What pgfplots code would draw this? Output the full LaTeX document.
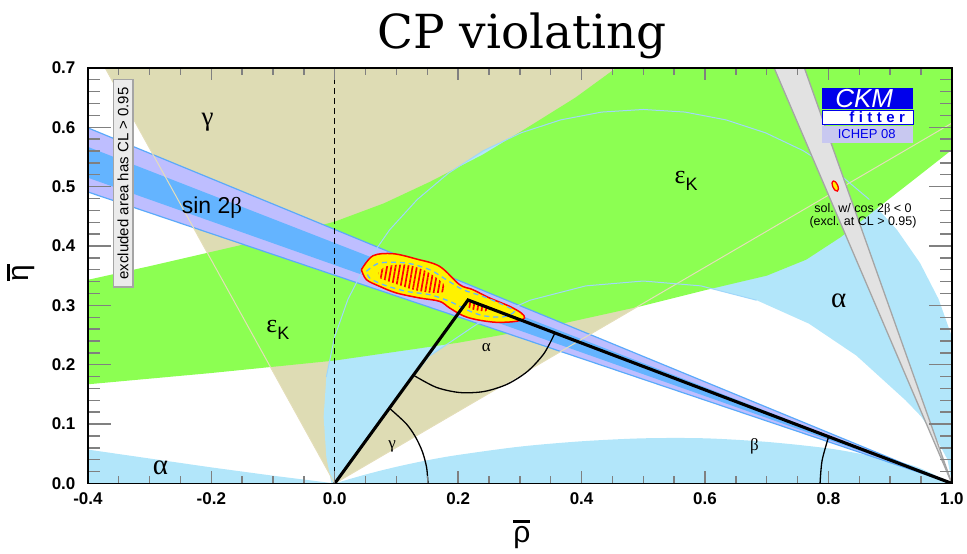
\documentclass[border=0pt]{standalone}
\usepackage{fontspec}
\setmainfont{Liberation Sans}
\newfontfamily\grk{Liberation Serif}
\newfontfamily\titlefont{DejaVu Serif}
\usepackage{pgfplots}
\pgfplotsset{compat=1.18}
\usetikzlibrary{patterns.meta}
\newcommand\fs[1]{\fontsize{#1}{#1}\selectfont}
\definecolor{tanc}{RGB}{222,220,180}
\definecolor{lblue}{RGB}{178,230,250}
\definecolor{lblueline}{RGB}{160,215,250}
\definecolor{epsgreen}{RGB}{140,255,82}
\definecolor{lav}{RGB}{190,190,255}
\definecolor{bandblue}{RGB}{100,180,255}
\definecolor{bandedge}{RGB}{90,170,250}
\definecolor{grayfill}{RGB}{226,226,226}
\definecolor{grayedge}{RGB}{165,165,165}
\definecolor{tanline}{RGB}{228,222,185}
\definecolor{logoblue}{RGB}{0,0,235}
\definecolor{logolav}{RGB}{200,200,240}
\definecolor{boxgray}{RGB}{235,235,235}
\definecolor{boxedge}{RGB}{165,165,165}
\begin{document}
\begin{tikzpicture}
\begin{axis}[
  name=ax, scale only axis, width=865pt, height=416pt,
  xmin=-0.4, xmax=1.0, ymin=0, ymax=0.7,
  xtick={-0.4,-0.2,0,0.2,0.4,0.6,0.8,1.0},
  ytick={0,0.1,0.2,0.3,0.4,0.5,0.6,0.7},
  minor x tick num=3, minor y tick num=4,
  tick align=inside,
  axis on top,
  axis line style={line width=1.8pt},
  xtick style={line width=1.4pt, /pgfplots/major tick length=12pt, /pgfplots/minor tick length=7pt},
  ytick style={line width=1.4pt, /pgfplots/major tick length=23pt, /pgfplots/minor tick length=12pt},
  /pgf/number format/assume math mode=true,
  xticklabel={\pgfmathprintnumber[fixed,fixed zerofill,precision=1]{\tick}},
  yticklabel={\pgfmathprintnumber[fixed,fixed zerofill,precision=1]{\tick}},
  ticklabel style={font=\fs{17}\bfseries},
  xticklabel style={yshift=-6pt},
  yticklabel style={xshift=-9pt},
]
% gamma wedge
\addplot[draw=none, fill=tanc] coordinates {(0,0) (1.0,0.607) (1.0,0.7) (-0.372,0.7)};
% alpha crescent
\addplot[draw=none, fill=lblue] coordinates {
(1.0037,-0.009)(1.0136,0.0444)(1.018,0.112)(1.0136,0.1796)(1.0004,0.2461)(0.9786,0.3102)(0.9486,0.371)(0.9110,0.4273)(0.8663,0.4783)(0.8153,0.5230)(0.759,0.5606)(0.6982,0.5906)(0.6341,0.6124)(0.5676,0.6256)(0.5,0.630)(0.4324,0.6256)(0.3659,0.6124)(0.3018,0.5906)(0.241,0.5606)(0.1847,0.5230)(0.1337,0.4783)(0.0890,0.4273)(0.0514,0.371)(0.0214,0.3102)(-0.0004,0.2461)(-0.0136,0.1796)(-0.018,0.112)(-0.0136,0.0444)(-0.0037,-0.009)
(0,0)(0.03,0.042)(0.06,0.085)(0.1,0.142)(0.1548,0.2154)(0.2315,0.2691)(0.3163,0.3086)(0.4068,0.3328)(0.5,0.341)(0.5933,0.3328)(0.6837,0.3086)(0.7685,0.2691)(0.8452,0.2154)(0.925,0.14)(0.95,0.113)(0.975,0.075)(0.993,0.04)(1.0,0.0)};
% alpha bottom band
\addplot[draw=none, fill=lblue, smooth] coordinates {(0,0)(0.05,0.015)(0.1,0.028)(0.15,0.039)(0.2,0.048)(0.3,0.062)(0.4,0.071)(0.5,0.076)(0.6,0.076)(0.7,0.070)(0.8,0.059)(0.87,0.046)(0.94,0.029)(1.0,0.0)};
% alpha bottom-left sliver
\addplot[draw=none, fill=lblue] coordinates {(-0.4,0)(-0.4,0.057)(-0.3,0.042)(-0.2,0.027)(-0.1,0.013)(0,0)};
% epsilon_K band
\addplot[draw=none, fill=epsgreen] coordinates {
(-0.4,0.343)(-0.3,0.366)(-0.2,0.390)(-0.1,0.414)(0,0.441)(0.08,0.472)(0.154,0.508)(0.24,0.554)(0.316,0.602)(0.39,0.650)(0.456,0.70)
(1.0,0.70)(1.0,0.562)(0.94,0.513)(0.882,0.466)(0.82,0.415)(0.764,0.377)(0.7,0.350)(0.602,0.326)(0.494,0.298)(0.35,0.265)(0.2,0.237)(0.1,0.222)(0,0.207)(-0.2,0.186)(-0.4,0.167)};
% sin 2beta
\addplot[fill=lav, draw=bandedge, line width=1.2pt] coordinates {(1,0)(-0.4,0.599)(-0.4,0.491)(1,0)};
\addplot[fill=bandblue, draw=none] coordinates {(1,0)(-0.4,0.567)(-0.4,0.515)(1,0)};
% outlines
\addplot[draw=tanline, line width=1pt] coordinates {(-0.372,0.7)(0,0)(1.0,0.607)};
\addplot[draw=lblueline, line width=1pt] coordinates {(-0.0136,0.1796)(-0.0004,0.2461)(0.0214,0.3102)(0.0514,0.371)(0.0890,0.4273)(0.1337,0.4783)(0.1847,0.5230)(0.241,0.5606)(0.3018,0.5906)(0.3659,0.6124)(0.4324,0.6256)(0.5,0.630)(0.5676,0.6256)(0.6341,0.6124)(0.6982,0.5906)(0.759,0.5606)(0.8153,0.5230)(0.8663,0.4783)};
\addplot[draw=lblueline, line width=1pt] coordinates {(0.1548,0.2154)(0.2315,0.2691)(0.3163,0.3086)(0.4068,0.3328)(0.5,0.341)(0.5933,0.3328)(0.6837,0.3086)};
% cos 2beta < 0 wedge
\addplot[fill=grayfill, draw=grayedge, line width=1.3pt] coordinates {(1,0)(0.712,0.7)(0.761,0.7)(1,0)};
\addplot[fill=yellow, draw=red, line width=1.3pt, smooth] coordinates {(0.8074,0.5095)(0.8111,0.5082)(0.8147,0.5027)(0.8162,0.4962)(0.8146,0.4925)(0.8109,0.4938)(0.8073,0.4993)(0.8058,0.5058)(0.8074,0.5095)};
% global fit CL
\addplot[fill=yellow, draw=red, line width=1.5pt, smooth, tension=0.55] coordinates {
(0.0432,0.3601)(0.0620,0.3836)(0.0944,0.3870)(0.1322,0.3781)(0.1699,0.3657)(0.2023,0.3349)(0.2238,0.3264)(0.2509,0.3124)(0.2832,0.2984)(0.3021,0.2872)(0.3075,0.2788)(0.2940,0.2731)(0.2617,0.2714)(0.2293,0.2760)(0.2077,0.2827)(0.1861,0.2956)(0.1699,0.3068)(0.1376,0.3124)(0.0998,0.3209)(0.0728,0.3320)(0.0513,0.3433)(0.0432,0.3601)};
\addplot[draw=none, pattern={Lines[angle=80,distance=4.2pt,line width=1.7pt]}, pattern color=red, smooth] coordinates {
(0.0701,0.3545)(0.0836,0.3657)(0.1160,0.3685)(0.1484,0.3573)(0.1753,0.3377)(0.1780,0.3236)(0.1591,0.3209)(0.1268,0.3264)(0.0944,0.3377)(0.0728,0.3461)(0.0701,0.3545)};
\addplot[draw=none, pattern={Lines[angle=80,distance=4.2pt,line width=1.7pt]}, pattern color=red, smooth] coordinates {
(0.2104,0.3068)(0.2293,0.3051)(0.2509,0.2973)(0.2455,0.2900)(0.2238,0.2928)(0.2131,0.2995)(0.2104,0.3068)};
\addplot[draw=bandblue, line width=1.3pt, dash pattern=on 5pt off 4pt, smooth] coordinates {
(0.0513,0.3573)(0.0728,0.3713)(0.1160,0.3713)(0.1537,0.3601)(0.1807,0.3433)(0.2077,0.3264)(0.2400,0.3152)(0.2724,0.3012)(0.2913,0.2900)(0.2724,0.2805)(0.2400,0.2827)(0.2131,0.2928)(0.1861,0.3068)(0.1537,0.3180)(0.1160,0.3236)(0.0782,0.3349)(0.0566,0.3461)(0.0513,0.3573)};
% rho = 0 line
\addplot[black, line width=1.4pt, dash pattern=on 6pt off 4pt] coordinates {(0,0)(0,0.7)};
% unitarity triangle
\addplot[black, line width=3.1pt] coordinates {(0,0)(0.216,0.309)(1,0)};
\addplot[black, line width=1.3pt, smooth] coordinates {(0.1511,0)(0.1488,0.0272)(0.1420,0.0535)(0.1308,0.0783)(0.1158,0.1006)(0.0886,0.1267)};
\addplot[black, line width=1.3pt, smooth] coordinates {(0.1277,0.1822)(0.1645,0.1619)(0.2029,0.1531)(0.2421,0.1549)(0.2796,0.1672)(0.3127,0.1891)(0.3393,0.2192)(0.3567,0.2534)};
\addplot[black, line width=1.3pt, smooth] coordinates {(0.7864,0)(0.7897,0.0386)(0.8003,0.0788)};
% labels
\node[font=\grk\fs{27}] at (-0.206,0.609) {γ};
\node[anchor=base, font=\fs{23}] at (-0.199,0.454) {sin 2{\grk β}};
\node[anchor=base west, font=\fs{26}] at (0.545,0.506) {{\grk ε}\raisebox{-7pt}{\fs{18}K}};
\node[anchor=base west, font=\fs{26}] at (-0.1165,0.254) {{\grk ε}\raisebox{-7pt}{\fs{18}K}};
\node[anchor=base, font=\grk\fs{29}] at (0.8165,0.296) {α};
\node[anchor=base, font=\grk\fs{29}] at (-0.2824,0.015) {α};
\node[anchor=base, font=\grk\fs{17}] at (0.2455,0.2225) {α};
\node[anchor=base, font=\grk\fs{17}] at (0.093,0.059) {γ};
\node[anchor=base, font=\grk\fs{17}] at (0.680,0.0555) {β};
\node[anchor=base, font=\fs{12.5}] at (0.856,0.456) {sol. w/ cos 2{\grk β} < 0};
\node[anchor=base, font=\fs{12.5}] at (0.856,0.434) {(excl. at CL > 0.95)};
% excluded box
\draw[fill=boxgray, draw=boxedge, line width=1.3pt] (-0.359,0.331) rectangle (-0.327,0.680);
\node[rotate=90, font=\fs{15}] at (-0.343,0.5055) {excluded area has CL > 0.95};
% logo
\fill[logoblue] (0.790,0.631) rectangle (0.937,0.666);
\draw[logoblue, line width=1pt, fill=white] (0.790,0.604) rectangle (0.937,0.629);
\fill[logolav] (0.790,0.574) rectangle (0.937,0.602);
\node[text=white, font=\fs{26}\itshape] at (0.858,0.6485) {CKM};
\node[text=logoblue, font=\fs{15}\bfseries] at (0.879,0.6165) {f\hspace{4.5pt}i\hspace{4.5pt}t\hspace{4.5pt}t\hspace{4.5pt}e\hspace{4.5pt}r};
\node[text=logoblue, font=\fs{13}] at (0.862,0.588) {ICHEP 08};
\end{axis}
\node[anchor=base, font=\titlefont\fs{47}] at ([xshift=2pt,yshift=19pt]ax.north) {CP violating};
\node[font=\fs{30}] at ([xshift=2pt,yshift=-51pt]ax.south) {\vbox{\hrule height 2.6pt\kern 3pt\hbox{ρ}}};
\node[rotate=90, font=\fs{30}] at ([xshift=-67pt,yshift=3pt]ax.west) {\vbox{\hrule height 2.6pt\kern 3pt\hbox{η}}};
\path ([shift={(-88pt,-70pt)}]ax.south west) rectangle ([shift={(14pt,68pt)}]ax.north east);
\end{tikzpicture}
\end{document}
